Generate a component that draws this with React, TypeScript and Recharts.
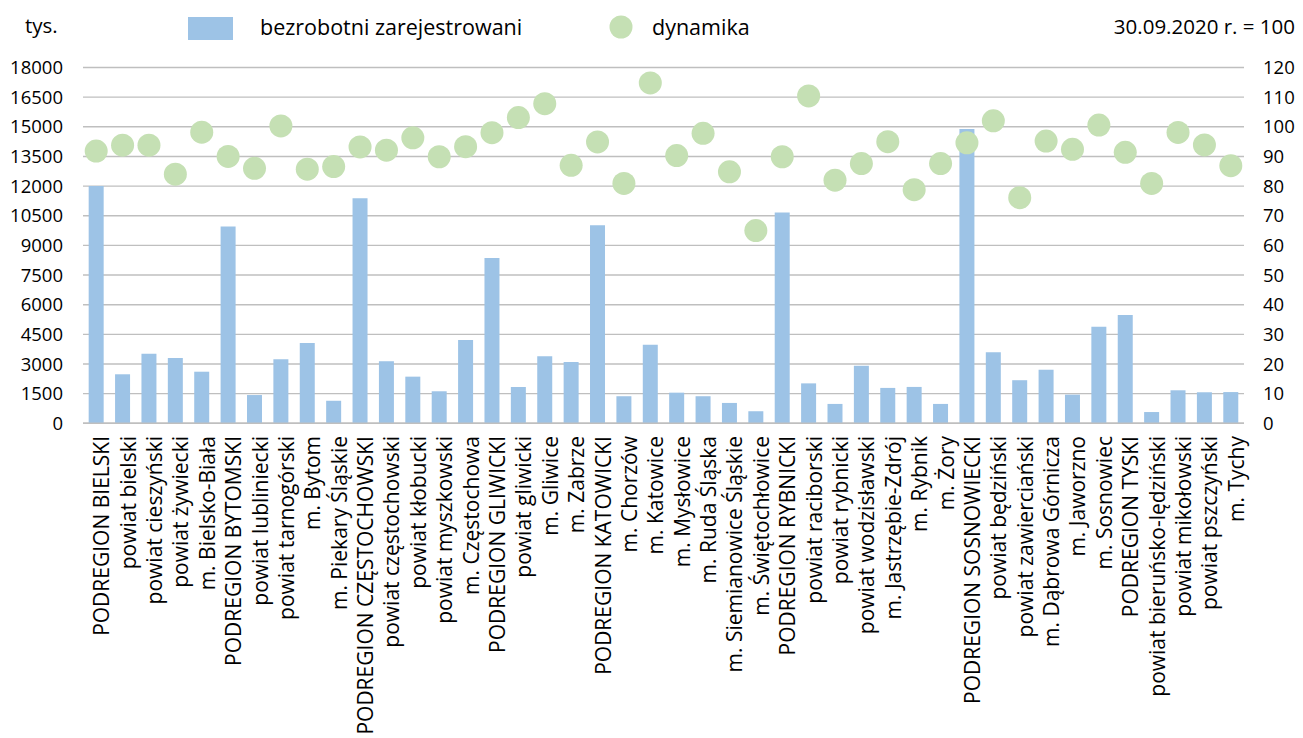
import React from 'react';
import { ComposedChart, Bar, Line, XAxis, YAxis, CartesianGrid } from 'recharts';

const categories = [
  'PODREGION BIELSKI', 'powiat bielski', 'powiat cieszyński', 'powiat żywiecki', 'm. Bielsko-Biała',
  'PODREGION BYTOMSKI', 'powiat lubliniecki', 'powiat tarnogórski', 'm. Bytom', 'm. Piekary Śląskie',
  'PODREGION CZĘSTOCHOWSKI', 'powiat częstochowski', 'powiat kłobucki', 'powiat myszkowski', 'm. Częstochowa',
  'PODREGION GLIWICKI', 'powiat gliwicki', 'm. Gliwice', 'm. Zabrze',
  'PODREGION KATOWICKI', 'm. Chorzów', 'm. Katowice', 'm. Mysłowice', 'm. Ruda Śląska', 'm. Siemianowice Śląskie', 'm. Świętochłowice',
  'PODREGION RYBNICKI', 'powiat raciborski', 'powiat rybnicki', 'powiat wodzisławski', 'm. Jastrzębie-Zdrój', 'm. Rybnik', 'm. Żory',
  'PODREGION SOSNOWIECKI', 'powiat będziński', 'powiat zawierciański', 'm. Dąbrowa Górnicza', 'm. Jaworzno', 'm. Sosnowiec',
  'PODREGION TYSKI', 'powiat bieruńsko-lędziński', 'powiat mikołowski', 'powiat pszczyński', 'm. Tychy',
];

const bezrobotni = [
  12000, 2480, 3520, 3300, 2610,
  9950, 1430, 3240, 4060, 1140,
  11380, 3140, 2360, 1620, 4210,
  8360, 1840, 3390, 3100,
  10020, 1370, 3980, 1550, 1370, 1030, 610,
  10670, 2020, 980, 2910, 1790, 1840, 980,
  14890, 3590, 2180, 2710, 1450, 4890,
  5480, 570, 1670, 1570, 1580,
];

const dynamika = [
  91.8, 93.8, 93.8, 84.0, 98.2,
  90.0, 86.0, 100.3, 85.7, 86.6,
  93.2, 92.1, 96.3, 89.9, 93.3,
  98.0, 103.1, 107.8, 87.0,
  94.9, 80.9, 114.8, 90.3, 97.8, 84.8, 65.0,
  89.9, 110.4, 82.0, 87.6, 95.0, 78.8, 87.6,
  94.6, 102.0, 76.1, 95.2, 92.4, 100.6,
  91.4, 80.9, 98.1, 93.9, 86.9,
];

const leftTicks = [0, 1500, 3000, 4500, 6000, 7500, 9000, 10500, 12000, 13500, 15000, 16500, 18000];
const rightTicks = [0, 10, 20, 30, 40, 50, 60, 70, 80, 90, 100, 110, 120];

const seriesNames = ['bezrobotni zarejestrowani', 'dynamika'];
const unitLeft = 'tys.';
const unitRight = '30.09.2020 r. = 100';

const BAR_COLOR = '#9DC3E6';
const DOT_COLOR = '#C5E0B4';
const GRID_COLOR = '#BFBFBF';
const FONT = '"Open Sans", "Noto Sans", sans-serif';

const data = categories.map((name, i) => ({ name, bez: bezrobotni[i], dyn: dynamika[i] }));

const XTick = (props: any) => {
  const { x, payload } = props;
  const px = x + 13;
  const py = 436;
  return (
    <text
      x={px}
      y={py}
      transform={`rotate(-90, ${px}, ${py})`}
      textAnchor="end"
      fontSize={21}
      fontFamily={FONT}
      fill="#000"
    >
      {payload.value}
    </text>
  );
};

const Header = () => (
  <svg width={1303} height={50} style={{ position: 'absolute', left: 0, top: 0, display: 'block' }}>
    <text x={25} y={33} fontSize={20.5} fontFamily={FONT} fill="#000">{unitLeft}</text>
    <rect x={188} y={17} width={45} height={23} fill={BAR_COLOR} />
    <text x={260} y={35} fontSize={21.5} fontFamily={FONT} fill="#000">{seriesNames[0]}</text>
    <circle cx={621} cy={27} r={11.5} fill={DOT_COLOR} />
    <text x={652} y={35} fontSize={21.5} fontFamily={FONT} fill="#000">{seriesNames[1]}</text>
    <text x={1295} y={34} textAnchor="end" fontSize={20.5} fontFamily={FONT} fill="#000">{unitRight}</text>
  </svg>
);

export default function App() {
  return (
    <div style={{ position: 'absolute', left: 0, top: 0, width: 1303, height: 738, background: '#fff', fontFamily: FONT, overflow: 'hidden' }}>
      <ComposedChart
        width={1303}
        height={738}
        data={data}
        margin={{ top: 67.5, right: 0, bottom: 0, left: 0 }}
        barCategoryGap="21.5%"
      >
        <CartesianGrid vertical={false} stroke={GRID_COLOR} strokeWidth={1.4} yAxisId="left" />
        <XAxis
          dataKey="name"
          interval={0}
          height={314.7}
          tick={<XTick />}
          tickLine={false}
          axisLine={{ stroke: GRID_COLOR, strokeWidth: 1.4 }}
        />
        <YAxis
          yAxisId="left"
          orientation="left"
          width={83}
          domain={[0, 18000]}
          ticks={leftTicks}
          interval={0}
          tickLine={false}
          axisLine={false}
          tickSize={0}
          tickMargin={20}
          tick={{ fontSize: 18.5, fill: '#000', fontFamily: FONT }}
        />
        <YAxis
          yAxisId="right"
          orientation="right"
          width={59}
          domain={[0, 120]}
          ticks={rightTicks}
          interval={0}
          tickLine={false}
          axisLine={false}
          tickSize={0}
          tickMargin={19}
          tick={{ fontSize: 18.5, fill: '#000', fontFamily: FONT }}
        />
        <Bar yAxisId="left" dataKey="bez" name={seriesNames[0]} fill={BAR_COLOR} isAnimationActive={false} />
        <Line
          yAxisId="right"
          dataKey="dyn"
          name={seriesNames[1]}
          stroke="none"
          dot={{ r: 11.5, fill: DOT_COLOR, stroke: 'none' }}
          activeDot={false}
          isAnimationActive={false}
        />
      </ComposedChart>
      <Header />
    </div>
  );
}
